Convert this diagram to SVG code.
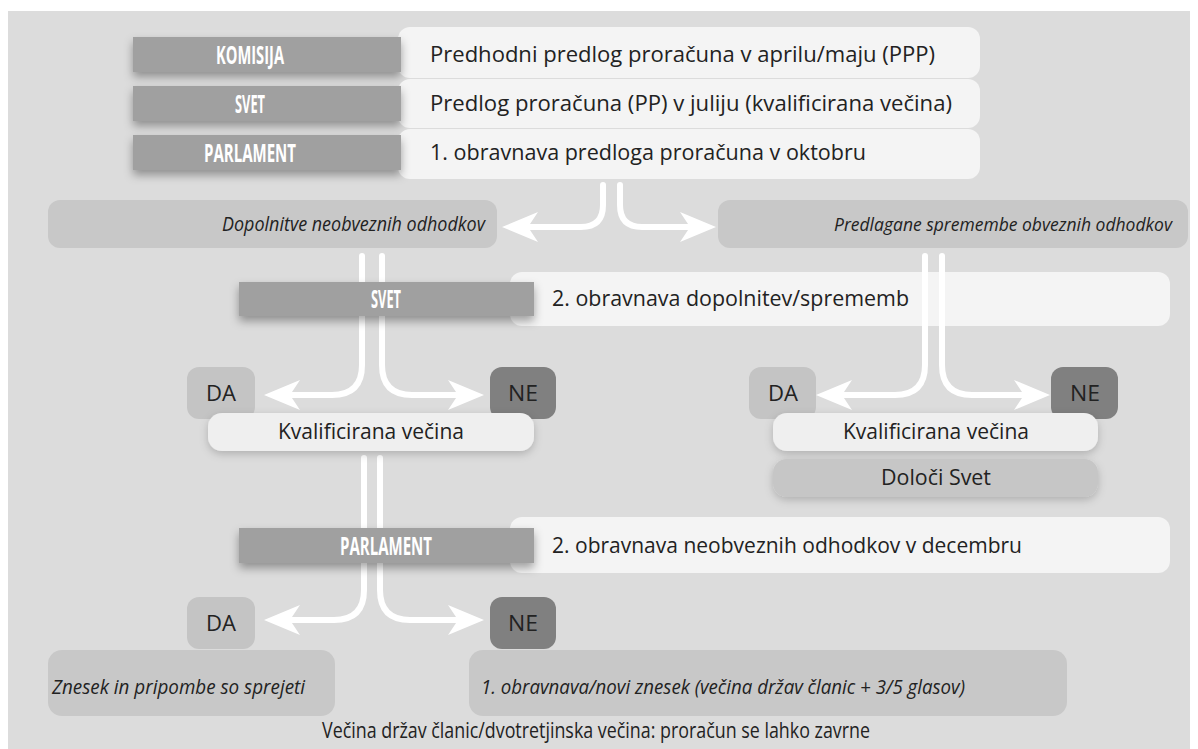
<svg xmlns="http://www.w3.org/2000/svg" width="1198" height="749" viewBox="0 0 1198 749">
<style>
.panel{fill:#dcdcdc}
.lab{fill:#a0a0a0;filter:url(#sh)}
.lt{fill:#f4f4f4}
.mid{fill:#c8c8c8}
.da{fill:#c4c4c4}
.ne{fill:#808080}
.kv{fill:#efefef;filter:url(#sh2)}
.ds{fill:#c6c6c6;filter:url(#sh2)}
.lbt{font-family:"Open Sans","Liberation Sans",sans-serif;font-weight:bold;font-size:25px;fill:#fff;text-anchor:middle}
.t{font-family:"Open Sans","Liberation Sans",sans-serif;font-size:21px;fill:#222}
.it{font-family:"Open Sans","Liberation Sans",sans-serif;font-style:italic;font-size:20px;fill:#222}
.sm{font-size:18px}
.c{text-anchor:middle}
.con{fill:none;stroke:#fff;stroke-width:6;stroke-linecap:round;marker-end:url(#ah)}
.con2{fill:none;stroke:#fff;stroke-width:6;stroke-linecap:round}
</style>
<defs>
<filter id="sh" x="-10%" y="-40%" width="120%" height="190%">
<feDropShadow dx="0" dy="5" stdDeviation="5" flood-color="#000" flood-opacity="0.35"/>
</filter>
<filter id="sh2" x="-10%" y="-40%" width="120%" height="190%">
<feDropShadow dx="0" dy="3" stdDeviation="4" flood-color="#000" flood-opacity="0.2"/>
</filter>
<marker id="ah" markerUnits="userSpaceOnUse" viewBox="0 0 36 30" markerWidth="36" markerHeight="30" refX="10" refY="15" orient="auto">
<path d="M0,0 L36,15 L0,30 L10,15 Z" fill="#fff"/>
</marker>
</defs>
<rect x="0" y="0" width="1198" height="749" fill="#fff"/>
<rect class="panel" x="8" y="11" width="1182" height="738"/>

<g id="row1">
<rect class="lt" x="398" y="27" width="582" height="51" rx="12"/>
<rect class="lab" x="133" y="37" width="268" height="35"/>
<text class="lbt" x="250" y="64" textLength="68" lengthAdjust="spacingAndGlyphs">KOMISIJA</text>
<text class="t" x="430" y="62" textLength="505" lengthAdjust="spacingAndGlyphs">Predhodni predlog proračuna v aprilu/maju (PPP)</text>
</g>
<g id="row2">
<rect class="lt" x="398" y="79" width="582" height="49" rx="12"/>
<rect class="lab" x="133" y="86" width="268" height="35"/>
<text class="lbt" x="250" y="113" textLength="30" lengthAdjust="spacingAndGlyphs">SVET</text>
<text class="t" x="430" y="111" textLength="522" lengthAdjust="spacingAndGlyphs">Predlog proračuna (PP) v juliju (kvalificirana večina)</text>
</g>
<g id="row3">
<rect class="lt" x="398" y="129" width="582" height="50" rx="12"/>
<rect class="lab" x="133" y="135" width="268" height="35"/>
<text class="lbt" x="250" y="162" textLength="92" lengthAdjust="spacingAndGlyphs">PARLAMENT</text>
<text class="t" x="430" y="160" textLength="436" lengthAdjust="spacingAndGlyphs">1. obravnava predloga proračuna v oktobru</text>
</g>

<g id="connectors">
<path class="con" d="M603,185 V205 Q603,227 581,227 H528"/>
<path class="con" d="M620,185 V205 Q620,227 642,227 H690"/>
<path class="con" d="M362,256 V365 Q362,395 332,395 H290"/>
<path class="con" d="M382,256 V365 Q382,395 412,395 H458"/>
<path class="con" d="M925,256 V365 Q925,395 895,395 H842"/>
<path class="con" d="M942,256 V365 Q942,395 972,395 H1024"/>
<path class="con" d="M364,458 V590 Q364,620 334,620 H290"/>
<path class="con" d="M380,458 V590 Q380,620 410,620 H458"/>
</g>

<g id="dopolnitve">
<rect class="mid" x="48" y="200" width="449" height="48" rx="12"/>
<text class="it" x="222" y="231" textLength="263" lengthAdjust="spacingAndGlyphs">Dopolnitve neobveznih odhodkov</text>
</g>
<g id="spremembe">
<rect class="mid" x="718" y="200" width="470" height="48" rx="12"/>
<text class="it sm" x="834" y="231" textLength="338" lengthAdjust="spacingAndGlyphs">Predlagane spremembe obveznih odhodkov</text>
</g>

<g id="svet2">
<rect class="lt" x="510" y="272" width="660" height="54" rx="12"/>
<rect class="lab" x="239" y="282" width="295" height="34"/>
<text class="lbt" x="386" y="308" textLength="30" lengthAdjust="spacingAndGlyphs">SVET</text>
<text class="t" x="552" y="306" textLength="357" lengthAdjust="spacingAndGlyphs">2. obravnava dopolnitev/sprememb</text>
</g>
<g id="connectors-over">
<path class="con2" d="M925,268 V330"/>
<path class="con2" d="M942,268 V330"/>
</g>

<g id="da1">
<rect class="da" x="187" y="367" width="68" height="52" rx="12"/>
<text class="t c" x="221" y="401" textLength="30" lengthAdjust="spacingAndGlyphs">DA</text>
</g>
<g id="ne1">
<rect class="ne" x="490" y="367" width="66" height="52" rx="12"/>
<text class="t c" x="523" y="401" textLength="30" lengthAdjust="spacingAndGlyphs">NE</text>
</g>
<g id="da2">
<rect class="da" x="749" y="367" width="67" height="52" rx="12"/>
<text class="t c" x="783" y="401" textLength="30" lengthAdjust="spacingAndGlyphs">DA</text>
</g>
<g id="ne2">
<rect class="ne" x="1051" y="367" width="67" height="52" rx="12"/>
<text class="t c" x="1085" y="401" textLength="30" lengthAdjust="spacingAndGlyphs">NE</text>
</g>

<g id="kv1">
<rect class="kv" x="208" y="413" width="326" height="38" rx="14"/>
<text class="t c" x="371" y="439" textLength="186" lengthAdjust="spacingAndGlyphs">Kvalificirana večina</text>
</g>
<g id="kv2">
<rect class="kv" x="773" y="413" width="325" height="38" rx="14"/>
<text class="t c" x="936" y="439" textLength="186" lengthAdjust="spacingAndGlyphs">Kvalificirana večina</text>
</g>
<g id="dolocisvet">
<rect class="ds" x="773" y="459" width="325" height="38" rx="14"/>
<text class="t c" x="936" y="485" textLength="110" lengthAdjust="spacingAndGlyphs">Določi Svet</text>
</g>

<g id="parlament2">
<rect class="lt" x="510" y="517" width="660" height="56" rx="12"/>
<rect class="lab" x="239" y="528" width="295" height="35"/>
<text class="lbt" x="386" y="555" textLength="92" lengthAdjust="spacingAndGlyphs">PARLAMENT</text>
<text class="t" x="552" y="553" textLength="470" lengthAdjust="spacingAndGlyphs">2. obravnava neobveznih odhodkov v decembru</text>
</g>

<g id="da3">
<rect class="da" x="187" y="597" width="68" height="52" rx="12"/>
<text class="t c" x="221" y="631" textLength="30" lengthAdjust="spacingAndGlyphs">DA</text>
</g>
<g id="ne3">
<rect class="ne" x="490" y="597" width="66" height="52" rx="12"/>
<text class="t c" x="523" y="631" textLength="30" lengthAdjust="spacingAndGlyphs">NE</text>
</g>

<g id="znesek">
<rect class="mid" x="48" y="650" width="287" height="66" rx="14"/>
<text class="it" x="52" y="694" textLength="253" lengthAdjust="spacingAndGlyphs">Znesek in pripombe so sprejeti</text>
</g>
<g id="novi">
<rect class="mid" x="469" y="650" width="598" height="66" rx="14"/>
<text class="it" x="481" y="694" textLength="484" lengthAdjust="spacingAndGlyphs">1. obravnava/novi znesek (večina držav članic + 3/5 glasov)</text>
</g>
<g id="footer">
<text class="t c" x="596" y="738" textLength="548" lengthAdjust="spacingAndGlyphs">Večina držav članic/dvotretjinska večina: proračun se lahko zavrne</text>
</g>
</svg>
